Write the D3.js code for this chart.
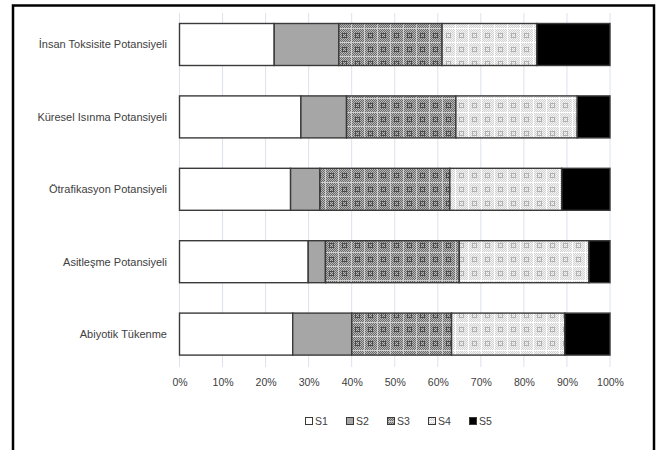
<!DOCTYPE html>
<html><head><meta charset="utf-8">
<script src="https://cdn.jsdelivr.net/npm/d3@7"></script>
<style>body{margin:0;background:#fff} svg{display:block} text{font-family:"Liberation Sans",Arial,sans-serif}</style>
</head><body><svg id="c" width="660" height="450"></svg>
<script>
const categories = ["İnsan Toksisite Potansiyeli","Küresel Isınma Potansiyeli","Ötrafikasyon Potansiyeli ","Asitleşme Potansiyeli","Abiyotik Tükenme"];
const seriesNames = ["S1","S2","S3","S4","S5"];
const S1 = [22.0, 28.2, 25.8, 29.9, 26.3];
const S2 = [15.0, 10.6, 6.8, 4.0, 13.7];
const S3 = [24.0, 25.4, 30.2, 31.1, 23.2];
const S4 = [22.0, 28.2, 26.0, 30.1, 26.3];
const S5 = [17.0, 7.6, 11.2, 4.9, 10.5];
const tickValues = [0,10,20,30,40,50,60,70,80,90,100];
const tickLabels = ["0%","10%","20%","30%","40%","50%","60%","70%","80%","90%","100%"];

const seriesVals = [S1,S2,S3,S4,S5];
const table = categories.map((c,i)=>{const r={cat:c}; seriesNames.forEach((s,j)=>r[s]=seriesVals[j][i]); return r;});

const svg = d3.select("#c");
const defs = svg.append("defs");

function checker(id, light, dark){
  const p = defs.append("pattern").attr("id",id).attr("width",2).attr("height",2).attr("patternUnits","userSpaceOnUse");
  p.append("rect").attr("width",2).attr("height",2).attr("fill",light);
  p.append("rect").attr("width",1).attr("height",1).attr("fill",dark);
  p.append("rect").attr("x",1).attr("y",1).attr("width",1).attr("height",1).attr("fill",dark);
}
checker("f3","#b8b8b8","#6a6a6a");
checker("f4","#f4f4f4","#d2d2d2");

function motif(id, fine, gridCol, symCol){
  const p = defs.append("pattern").attr("id",id).attr("width",13).attr("height",14).attr("patternUnits","userSpaceOnUse");
  p.append("rect").attr("width",13).attr("height",14).attr("fill","url(#"+fine+")");
  p.append("rect").attr("x",0).attr("y",0).attr("width",13).attr("height",1).attr("fill",gridCol);
  p.append("rect").attr("x",0).attr("y",0).attr("width",1).attr("height",14).attr("fill",gridCol);
  p.append("rect").attr("x",4.5).attr("y",5.5).attr("width",4).attr("height",4).attr("fill","none").attr("stroke",symCol).attr("stroke-width",1);
}
motif("p3","f3","#cfcfcf","#4a4a4a");
motif("p4","f4","#ffffff","#b0b0b0");

const fills = {S1:"#ffffff", S2:"#a6a6a6", S3:"url(#p3)", S4:"url(#p4)", S5:"#000000"};

const x = d3.scaleLinear().domain([0,100]).range([179.5,610]);
const y = d3.scaleBand().domain(categories).range([8.3,370.3]).paddingInner(0.42).paddingOuter(0.21);

svg.append("g").selectAll("line").data(tickValues).join("line")
  .attr("x1",d=>x(d)).attr("x2",d=>x(d)).attr("y1",13).attr("y2",367)
  .attr("stroke","#dce2ec").attr("stroke-width",1);

const stack = d3.stack().keys(seriesNames)(table);
const g = svg.append("g");
stack.forEach(layer=>{
  g.append("g").selectAll("rect").data(layer).join("rect")
    .attr("x",d=>x(d[0])).attr("width",d=>x(d[1])-x(d[0]))
    .attr("y",d=>y(d.data.cat)).attr("height",y.bandwidth())
    .attr("fill",fills[layer.key]).attr("stroke","#3a3a3a").attr("stroke-width",1.4);
});

svg.append("g").selectAll("text").data(categories).join("text")
  .attr("x",167).attr("y",d=>y(d)+y.bandwidth()/2).attr("dy","0.35em")
  .attr("text-anchor","end").attr("font-size",11).attr("fill","#404040").text(d=>d);

const xAxis = d3.axisBottom(x).tickValues(tickValues).tickFormat((d,i)=>tickLabels[i]).tickSize(0).tickPadding(0);
const ax = svg.append("g").attr("transform","translate(0,379)").call(xAxis);
ax.select(".domain").remove();
ax.selectAll("text").attr("font-size",10.5).attr("fill","#404040").attr("font-family","Liberation Sans, Arial, sans-serif");

const lx = d3.scalePoint().domain(seriesNames).range([305,469]);
const leg = svg.append("g").selectAll("g").data(seriesNames).join("g")
  .attr("transform",d=>`translate(${lx(d)},421)`);
leg.append("rect").attr("x",0.5).attr("y",-3.5).attr("width",7).attr("height",7)
  .attr("fill",d=>fills[d]).attr("stroke","#3a3a3a").attr("stroke-width",1);
leg.append("text").attr("x",10).attr("dy","0.35em").attr("font-size",10.5).attr("fill","#404040").text(d=>d);

svg.append("rect").attr("x",13).attr("y",5.5).attr("width",641).attr("height",460)
  .attr("fill","none").attr("stroke","#000").attr("stroke-width",2.5);
</script></body></html>
